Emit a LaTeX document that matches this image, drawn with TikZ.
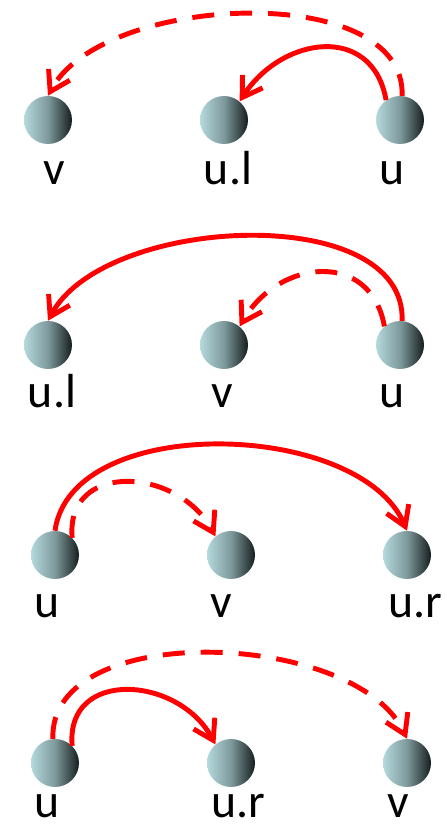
\documentclass[tikz,border=0pt]{standalone}
\usepackage{fontspec}
\setmainfont{Carlito}
\usepackage{xcolor}
\definecolor{ballLight}{HTML}{B4D9DD}
\definecolor{ballMid}{HTML}{7E999C}
\definecolor{ballDark}{HTML}{161E1E}
\definecolor{linkred}{HTML}{FF0000}
\usepackage{tikz}
\usetikzlibrary{arrows.meta, positioning}

\begin{document}
\begin{tikzpicture}
    \tikzstyle{ball}=[circle, minimum size=1.2cm, inner sep=0pt,
                      left color=ballLight, right color=ballDark, middle color=ballMid]
    \tikzstyle{lbl}=[inner sep=0pt, text height=0.75cm, text depth=0pt,
                     font=\fontsize{34}{40}\selectfont]
    \tikzstyle{link}=[line width=3.5pt, color=linkred,
                      -{Straight Barb[length=0.48cm, width=0.6cm]}]
    \tikzstyle{maybe}=[link, dash pattern=on 0.55cm off 0.4cm]

    \useasboundingbox (0,0) rectangle (11.175,20.75);

    % row 1
    \node[ball] (v1)  at (1.2,17.75)  {};
    \node[ball] (ul1) at (5.6,17.75)  {};
    \node[ball] (u1)  at (10.0,17.75) {};
    \node[lbl, below=0.25cm of v1, xshift=0.15cm]  (v1t)  {v};
    \node[lbl, below=0.25cm of ul1, xshift=0.1cm]  (ul1t) {u.l};
    \node[lbl, below=0.25cm of u1, xshift=-0.2cm]  (u1t)  {u};
    \draw[maybe] (u1.85)  to[out=88, in=62, distance=2.9cm]  (v1.90);
    \draw[link]  (u1.125) to[out=100, in=57, distance=1.95cm] (ul1.50);

    % row 2
    \node[ball] (ul2) at (1.2,12.125)  {};
    \node[ball] (v2)  at (5.6,12.125)  {};
    \node[ball] (u2)  at (10.0,12.125) {};
    \node[lbl, below=0.2cm of ul2, xshift=0.1cm]  (ul2t) {u.l};
    \node[lbl, below=0.2cm of v2, xshift=-0.05cm] (v2t)  {v};
    \node[lbl, below=0.2cm of u2, xshift=-0.2cm]  (u2t)  {u};
    \draw[link]  (u2.85)  to[out=88, in=62, distance=3cm]     (ul2.90);
    \draw[maybe] (u2.130) to[out=100, in=60, distance=1.95cm] (v2.50);

    % row 3
    \node[ball] (u3)  at (1.375,6.875)  {};
    \node[ball] (v3)  at (5.775,6.875)  {};
    \node[ball] (ur3) at (10.175,6.875) {};
    \node[lbl, below=0.2cm of u3, xshift=-0.2cm]  (u3t)  {u};
    \node[lbl, below=0.2cm of v3, xshift=-0.25cm] (v3t)  {v};
    \node[lbl, below=0.2cm of ur3, xshift=0.2cm]  (ur3t) {u.r};
    \draw[link]  (u3.90) to[out=82, in=113, distance=3cm]    (ur3.90);
    \draw[maybe] (u3.45) to[out=95, in=118, distance=1.95cm] (v3.130);

    % row 4
    \node[ball] (u4)  at (1.375,1.675)  {};
    \node[ball] (ur4) at (5.775,1.675)  {};
    \node[ball] (v4)  at (10.175,1.675) {};
    \node[lbl, below=0cm of u4, xshift=-0.2cm]  (u4t)  {u};
    \node[lbl, below=0cm of ur4, xshift=0.18cm] (ur4t) {u.r};
    \node[lbl, below=0cm of v4, xshift=-0.22cm] (v4t)  {v};
    \draw[maybe] (u4.95) to[out=92, in=115, distance=3cm]    (v4.90);
    \draw[link]  (u4.45) to[out=95, in=118, distance=1.95cm] (ur4.130);
\end{tikzpicture}
\end{document}
